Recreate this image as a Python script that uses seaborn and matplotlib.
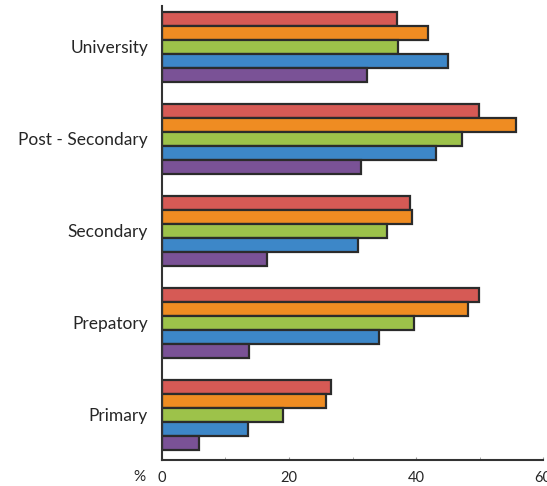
import pandas as pd
import matplotlib.pyplot as plt
from matplotlib.ticker import MultipleLocator
import seaborn as sns

# levels of education, top to bottom
levels = ['University', 'Post - Secondary', 'Secondary', 'Prepatory', 'Primary']
series = ['S1', 'S2', 'S3', 'S4', 'S5']
colors = ['#d65a55', '#ef8c22', '#9dc24a', '#3d87c8', '#7a5296']

# percentages, one list per series
s1 = [37.0, 49.9, 39.1, 49.9, 26.6]
s2 = [41.8, 55.7, 39.3, 48.1, 25.8]
s3 = [37.2, 47.2, 35.5, 39.6, 19.1]
s4 = [45.1, 43.1, 30.8, 34.1, 13.6]
s5 = [32.2, 31.4, 16.5, 13.7, 5.8]

rows = []
for name, vals in zip(series, [s1, s2, s3, s4, s5]):
    for lvl, v in zip(levels, vals):
        rows.append({'Level': lvl, 'Series': name, 'Value': v})
df = pd.DataFrame(rows)

sns.set_style('white')
plt.rcParams['font.family'] = ['Lato', 'DejaVu Sans']

fig = plt.figure(figsize=(5.47, 4.86), dpi=100)
ax = fig.add_axes([0.296, 0.0535, 0.697, 0.935])

sns.barplot(data=df, y='Level', x='Value', hue='Series', order=levels,
            hue_order=series, palette=colors, saturation=1, orient='h', width=0.77,
            edgecolor='#2b2b2b', linewidth=1.6, legend=False, ax=ax)

ax.set_xlim(0, 60)
ax.set_ylim(4.49, -0.45)
ax.xaxis.set_major_locator(MultipleLocator(20))
ax.xaxis.set_minor_locator(MultipleLocator(10))
ax.tick_params(axis='x', which='both', direction='in', length=2, color='#999999',
               labelsize=10.5, pad=8, bottom=True)
ax.tick_params(axis='y', length=0, labelsize=12.5, pad=10)
ax.set_xlabel('')
ax.set_ylabel('')

sns.despine(ax=ax)
for sp in ['left', 'bottom']:
    ax.spines[sp].set_color('#333333')
    ax.spines[sp].set_linewidth(1.5)

# percent sign sits on the tick label line, left of the 0
ax.text(-0.058, -0.038, '%', transform=ax.transAxes, ha='center', va='center',
        fontsize=11)

fig.savefig('out.png', dpi=100)
